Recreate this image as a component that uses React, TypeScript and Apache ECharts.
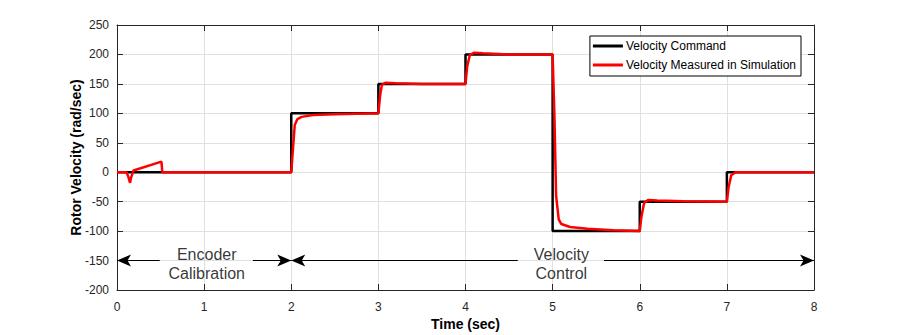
import React, { useEffect, useRef } from "react";
import * as echarts from "echarts";

const xTicks = [0, 1, 2, 3, 4, 5, 6, 7, 8];
const yTicks = [-200, -150, -100, -50, 0, 50, 100, 150, 200, 250];

const commandData: [number, number][] = [
  [0, 0], [2, 0], [2, 100], [3, 100], [3, 150], [4, 150], [4, 200], [5, 200],
  [5, -100], [6, -100], [6, -50], [7, -50], [7, 0], [8, 0],
];

const measuredData: [number, number][] = [
  [0, 0], [0.11, 0], [0.13, -8], [0.15, -18], [0.16, -10], [0.19, 3], [0.51, 18], [0.52, 0],
  [2.0, 0], [2.02, 40], [2.04, 80], [2.07, 90], [2.12, 94], [2.25, 97], [2.5, 98.5], [3.0, 100],
  [3.02, 130], [3.04, 148], [3.08, 152], [3.2, 151], [3.5, 150], [4.0, 150],
  [4.02, 180], [4.05, 199], [4.1, 203], [4.2, 202], [4.5, 200], [5.0, 200],
  [5.02, 100], [5.04, -40], [5.07, -80], [5.1, -88], [5.2, -93], [5.4, -96], [5.7, -98.5], [6.0, -100],
  [6.02, -75], [6.05, -52], [6.1, -47], [6.2, -48], [6.5, -49.5], [7.0, -50],
  [7.02, -25], [7.05, -5], [7.1, 0], [8, 0],
];

// arrow segments: [fromX, toX] at y = -150, arrowhead at toX
const arrowY = -150;
const arrowSegments: [number, number][] = [
  [0.49, 0], [1.56, 2], [4.6, 2], [5.59, 8],
];
const annotations = [
  { x: 1.03, y: -150, text: "Encoder\nCalibration" },
  { x: 5.1, y: -150, text: "Velocity\nControl" },
];

export default function App() {
  const ref = useRef<HTMLDivElement>(null);
  useEffect(() => {
    document.body.style.margin = "0";
    const chart = echarts.init(ref.current!, null, { renderer: "svg" });
    const axisColor = "#262626";
    const font = "Liberation Sans, Arial, Helvetica, sans-serif";
    const gridLine = { show: true, lineStyle: { color: "#e0e0e0", width: 1 } };
    chart.setOption({
      animation: false,
      backgroundColor: "#ffffff",
      textStyle: { fontFamily: font },
      grid: { left: 117, right: 86, top: 25, bottom: 45, outerBoundsMode: "none", containLabel: false },
      legend: {
        data: ["Velocity Command", "Velocity Measured in Simulation"],
        orient: "vertical",
        right: 99,
        top: 36,
        backgroundColor: "#ffffff",
        borderColor: "#000000",
        borderWidth: 1,
        borderRadius: 0,
        padding: [4, 5, 5, 3],
        itemGap: 7,
        itemWidth: 30,
        itemHeight: 3,
        icon: "rect",
        textStyle: { fontSize: 12, color: "#000000", fontFamily: font, padding: [0, 0, 0, -2] },
      },
      xAxis: [
        {
          type: "value",
          min: 0,
          max: 8,
          interval: 1,
          name: "Time (sec)",
          nameLocation: "middle",
          nameGap: 27,
          nameMoveOverlap: false,
          nameTextStyle: { fontWeight: "bold", fontSize: 14, color: "#000", fontFamily: font },
          axisLine: { show: true, onZero: false, lineStyle: { color: axisColor } },
          axisTick: { show: true, inside: true, length: 6, lineStyle: { color: axisColor } },
          axisLabel: { fontSize: 12, color: axisColor, margin: 11, fontFamily: font },
          splitLine: gridLine,
        },
        {
          type: "value",
          position: "top",
          min: 0,
          max: 8,
          interval: 1,
          axisLine: { show: true, onZero: false, lineStyle: { color: axisColor } },
          axisTick: { show: true, inside: true, length: 6, lineStyle: { color: axisColor } },
          axisLabel: { show: false },
          splitLine: { show: false },
        },
      ],
      yAxis: [
        {
          type: "value",
          min: -200,
          max: 250,
          interval: 50,
          name: "Rotor Velocity (rad/sec)",
          nameLocation: "middle",
          nameGap: 34,
          nameMoveOverlap: false,
          nameRotate: 90,
          nameTextStyle: { fontWeight: "bold", fontSize: 14, color: "#000", fontFamily: font },
          axisLine: { show: true, onZero: false, lineStyle: { color: axisColor } },
          axisTick: { show: true, inside: true, length: 6, lineStyle: { color: axisColor } },
          axisLabel: { fontSize: 12, color: axisColor, margin: 8, fontFamily: font },
          splitLine: gridLine,
        },
        {
          type: "value",
          position: "right",
          min: -200,
          max: 250,
          interval: 50,
          axisLine: { show: true, onZero: false, lineStyle: { color: axisColor } },
          axisTick: { show: true, inside: true, length: 6, lineStyle: { color: axisColor } },
          axisLabel: { show: false },
          splitLine: { show: false },
        },
      ],
      series: [
        {
          name: "Velocity Command",
          type: "line",
          data: commandData,
          showSymbol: false,
          symbol: "none",
          color: "#000000",
          lineStyle: { color: "#000000", width: 2.5 },
          z: 3,
        },
        {
          name: "Velocity Measured in Simulation",
          type: "line",
          data: measuredData,
          showSymbol: false,
          symbol: "none",
          color: "#ff0000",
          lineStyle: { color: "#ff0000", width: 2.5 },
          z: 4,
        },
        {
          type: "line",
          data: [],
          silent: true,
          markLine: {
            silent: true,
            symbol: ["none", "arrow"],
            symbolSize: [9, 14],
            label: { show: false },
            lineStyle: { color: "#000000", width: 1, type: "solid" },
            data: arrowSegments.map(([a, b]) => [
              { coord: [a, arrowY] },
              { coord: [b, arrowY] },
            ]),
          },
          z: 5,
        },
        {
          type: "scatter",
          data: annotations.map((a) => [a.x, a.y]),
          symbolSize: 0,
          silent: true,
          label: {
            show: true,
            position: "inside",
            offset: [0, 3],
            formatter: (p: any) => annotations[p.dataIndex].text,
            fontSize: 16,
            lineHeight: 19,
            color: "#000000",
            fontFamily: font,
            align: "center",
          },
          z: 6,
        },
      ],
    });
    return () => chart.dispose();
  }, []);
  return <div ref={ref} style={{ width: 900, height: 335 }} />;
}
